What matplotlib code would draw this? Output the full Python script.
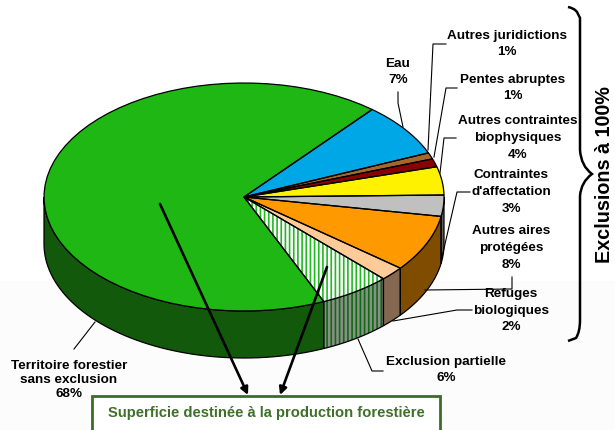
import numpy as np
import matplotlib
matplotlib.use("Agg")
import matplotlib.pyplot as plt
from matplotlib.patches import Polygon, PathPatch, Rectangle
from matplotlib.path import Path

plt.rcParams["font.family"] = ["Liberation Sans", "DejaVu Sans"]
plt.rcParams["hatch.linewidth"] = 1.2

# clockwise from the gray slice, which starts at 3 o'clock
categories = ["Contraintes\nd'affectation", "Autres aires\nprotégées", "Refuges\nbiologiques",
              "Exclusion partielle", "Territoire forestier\nsans exclusion", "Eau",
              "Autres juridictions", "Pentes abruptes", "Autres contraintes\nbiophysiques"]
percent_labels = [3, 8, 2, 6, 68, 7, 1, 1, 4]
# slice sizes as drawn in the picture (the labels are rounded)
values = [3.0, 8.0, 2.0, 5.75, 67.6, 7.6, 0.9, 1.15, 4.0]
top_colors = ["#C0C0C0", "#FF9900", "#FFCC99", "#FFFFFF", "#1FB714", "#00A7E6",
              "#A5682A", "#8B0000", "#FFF200"]
side_colors = ["#606060", "#7F4C00", "#846850", "#8A8F8A", "#12590C", "#005473",
               "#533415", "#460000", "#807900"]

CX, CY, RX, RY, DEPTH = 244, 197, 200, 114, 47
START = 1.0

# label centre x, y in pixels, then the leader line
label_pos = [(511, 192), (511, 248), (511, 311), (446, 370), (69, 380), (398, 72),
             (507, 44), (513, 88), (518, 138)]
leaders = [
    [(470, 192), (457, 192), (442, 257)],
    [(512, 277), (512, 289), (425, 290)],
    [(472, 310), (457, 310), (393, 321)],
    [(383, 371), (372, 371), (358, 339)],
    [(95, 322), (74, 349)],
    [(398, 92), (398, 103), (403, 127)],
    [(446, 44), (433, 44), (428, 150)],
    [(457, 88), (446, 88), (434, 157)],
    [(456, 138), (444, 138), (440, 173)],
]


def rim(t1, t2, dy=0):
    t = np.radians(np.linspace(t1, t2, 60))
    return np.column_stack([CX + RX * np.cos(t), CY + dy - RY * np.sin(t)])


fig = plt.figure(figsize=(6.15, 4.3), dpi=100)
ax = fig.add_axes([0, 0, 1, 1])
ax.set_xlim(0, 615)
ax.set_ylim(430, 0)
ax.axis("off")

ax.add_patch(Rectangle((0, 281), 615, 149, facecolor="#FCFCFC", edgecolor="none", zorder=0))

# angles run clockwise from START
edges = START - np.cumsum([0] + values) * 3.6
for i in range(len(values)):
    t1, t2 = edges[i], edges[i + 1]
    # side wall only shows on the front half of the pie
    a, b = max(t2, -180), min(t1, 0)
    if a < b:
        pts = np.vstack([rim(b, a), rim(a, b, DEPTH)])
        ax.add_patch(Polygon(pts, facecolor=side_colors[i], edgecolor="none", zorder=2))
        if i == 3:
            ax.add_patch(Polygon(pts, facecolor="none", edgecolor="#0F6B0F", hatch="||||", lw=0, zorder=2.1))
        ax.add_patch(Polygon(pts, facecolor="none", edgecolor="black", lw=0.9, zorder=2.2))
    pts = np.vstack([[(CX, CY)], rim(t1, t2)])
    ax.add_patch(Polygon(pts, facecolor=top_colors[i], edgecolor="none", zorder=3))
    if i == 3:
        ax.add_patch(Polygon(pts, facecolor="none", edgecolor="#22B822", hatch="||||", lw=0, zorder=3.1))
    ax.add_patch(Polygon(pts, facecolor="none", edgecolor="black", lw=0.9, zorder=3.2))

for line in leaders:
    xs, ys = zip(*line)
    ax.plot(xs, ys, color="black", lw=0.8, zorder=4)

for name, v, (x, y) in zip(categories, percent_labels, label_pos):
    ax.text(x, y, f"{name}\n{v}%", ha="center", va="center", fontsize=9.7,
            fontweight="bold", color="black", linespacing=1.5 if "Territoire" not in name else 1.27, zorder=5)

# arrows to the box
for start, end in [((160, 204), (248, 395)), ((327, 267), (280, 395))]:
    ax.annotate("", xy=end, xytext=start, zorder=6,
                arrowprops=dict(arrowstyle="-|>", color="black", lw=1.9, mutation_scale=11,
                                shrinkA=0, shrinkB=0))

ax.add_patch(Rectangle((92, 395.5), 348, 40, facecolor="white", edgecolor="#3E6B26", lw=2, zorder=7))
ax.text(266, 413, "Superficie destinée à la production forestière", ha="center", va="center",
        fontsize=10.6, fontweight="bold", color="#3F7029", zorder=8)

# curly brace
verts = [(568, 7), (574, 8), (577, 12), (580, 18), (580, 30), (580, 150), (581, 166), (592, 174),
         (581, 182), (580, 196), (580, 320), (580, 332), (576, 338), (568, 341)]
codes = [Path.MOVETO, Path.CURVE3, Path.CURVE3, Path.LINETO, Path.LINETO, Path.LINETO,
         Path.CURVE3, Path.CURVE3, Path.CURVE3, Path.CURVE3, Path.LINETO, Path.CURVE3, Path.CURVE3, Path.LINETO]
ax.add_patch(PathPatch(Path(verts, codes), facecolor="none", edgecolor="black", lw=1.8, zorder=4))

ax.text(604, 175, "Exclusions à 100%", rotation=90, ha="center", va="center",
        fontsize=14.2, fontweight="bold", color="black")

fig.savefig("out.png", dpi=100)
